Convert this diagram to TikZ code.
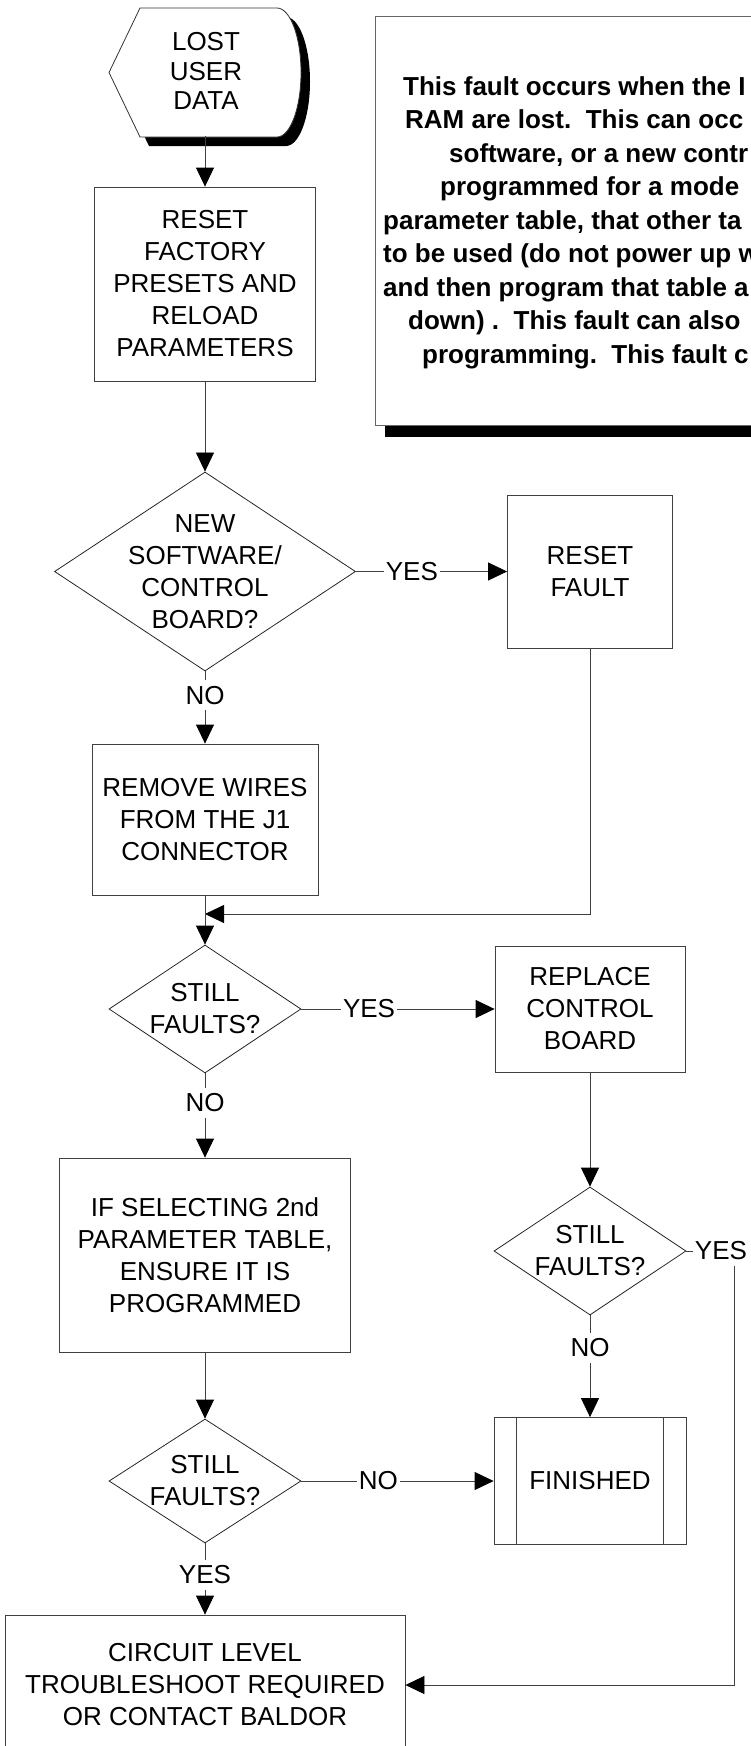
\documentclass[tikz,border=0pt]{standalone}
\usepackage{fontspec}
\setmainfont{Liberation Sans}
\usetikzlibrary{shapes.geometric, arrows.meta, positioning}
\usetikzlibrary{backgrounds}
\newcommand{\flowfont}{\fontsize{26}{32}\selectfont}
\newcommand{\notefont}{\fontsize{26}{33}\selectfont\bfseries}
\tikzset{
	box/.style={draw=black!75, rectangle, line width=0.8pt, align=center, font=\flowfont, inner sep=2pt},
	decision/.style={draw=black!85, diamond, line width=0.8pt, inner sep=0pt},
	txt/.style={align=center, font=\flowfont, inner sep=0pt},
	lbl/.style={fill=white, font=\flowfont, inner xsep=2pt, inner ysep=6pt},
	start/.style={align=center, font=\fontsize{26}{29.5}\selectfont, minimum width=192pt, minimum height=129pt, inner sep=0pt},
	notebox/.style={draw=black!60, fill=white, rectangle, line width=0.8pt, anchor=north west},
	% lines of the note, cut by the right edge
	notetext/.style={font=\notefont, anchor=base west, inner sep=0pt}
}

\begin{document}
\begin{tikzpicture}[x=1pt, y=-1pt]
			\useasboundingbox (0,0) rectangle (750,1746);
			
			\node (data) [start] at (206,71) {LOST\\USER\\DATA};
			\node (rst) [box, minimum width=221pt, minimum height=194pt] at (205,284) {RESET\\FACTORY\\PRESETS AND\\RELOAD\\PARAMETERS};
			
			\node (note) [notebox, minimum width=525pt, minimum height=409pt] at (375,16) {};
			\node (l1) [notetext] at (403,95) {This fault occurs when the I};
			\node (l2) [notetext] at (405,128.5) {RAM are lost.\ \ This can occ};
			\node (l3) [notetext] at (449,162) {software, or a new contr};
			\node (l4) [notetext] at (440,195.5) {programmed for a mode};
			\node (l5) [notetext] at (383,229) {parameter table, that other ta};
			\node (l6) [notetext] at (383,262.5) {to be used (do not power up w};
			\node (l7) [notetext] at (383,296) {and then program that table a};
			\node (l8) [notetext] at (408,329.5) {down) .\ \ This fault can also};
			\node (l9) [notetext] at (422,363) {programming.\ \ This fault c};
			
			\node (q1) [decision, minimum width=301pt, minimum height=199pt] at (205,571.5) {};
			\node (q1t) [txt] at (q1) {NEW\\SOFTWARE/\\CONTROL\\BOARD?};
			\node (fault) [box, minimum width=165pt, minimum height=153pt] at (590,571.5) {RESET\\FAULT};
			\node (remove) [box, minimum width=226pt, minimum height=151pt] at (205,819.5) {REMOVE WIRES\\FROM THE J1\\CONNECTOR};
			\coordinate (join) at (205,914);
			
			\node (q2) [decision, minimum width=192pt, minimum height=128pt] at (205,1009) {};
			\node (q2t) [txt] at (q2) {STILL\\FAULTS?};
			\node (replace) [box, minimum width=190pt, minimum height=126pt] at (590,1009) {REPLACE\\CONTROL\\BOARD};
			\node (ifsel) [box, minimum width=291pt, minimum height=194pt] at (205,1255) {IF SELECTING 2nd\\PARAMETER TABLE,\\ENSURE IT IS\\PROGRAMMED};
			
			\node (q4) [decision, minimum width=192pt, minimum height=128pt] at (590,1251) {};
			\node (q4t) [txt] at (q4) {STILL\\FAULTS?};
			\coordinate (corner) at (734,1251);
			
			\node (q3) [decision, minimum width=192pt, minimum height=124pt] at (205,1481) {};
			\node (q3t) [txt] at (q3) {STILL\\FAULTS?};
			\node (done) [box, minimum width=192pt, minimum height=127pt] at (590,1481) {FINISHED};
			\draw [draw=black!75, line width=0.8pt] ([xshift=23pt]done.north west) -- ([xshift=23pt]done.south west);
			\draw [draw=black!75, line width=0.8pt] ([xshift=-23pt]done.north east) -- ([xshift=-23pt]done.south east);
			
			\node (circuit) [box, minimum width=400pt, minimum height=140pt] at (205,1685) {CIRCUIT LEVEL\\TROUBLESHOOT REQUIRED\\OR CONTACT BALDOR};
			
			% shadows and the start symbol
			\begin{scope}[on background layer]
				\fill [black, shift={(9,9)}] (109,72.5) -- (140,8) -- (277,8) arc[start angle=90, end angle=-90, x radius=24pt, y radius=64.5pt] -- (140,137) -- cycle;
				\filldraw [fill=white, draw=black!80, line width=0.8pt] (109,72.5) -- (140,8) -- (277,8) arc[start angle=90, end angle=-90, x radius=24pt, y radius=64.5pt] -- (140,137) -- cycle;
				\fill [black] ([shift={(10pt,-11pt)}]note.north west) rectangle ([shift={(10pt,-11pt)}]note.south east);
			\end{scope}
			
			\begin{scope}[line width=0.8pt, draw=black!75, -{Triangle[length=19pt, width=18pt, color=black]}]
				\draw (data.south -| rst.north) -- (rst);
				\draw (rst) -- (q1);
				\draw (q1) -- node[lbl, pos=0.37] (y1) {YES} (fault);
				\draw (q1) -- node[lbl, pos=0.33] (n1) {NO} (remove);
				\draw (fault.south) |- (join);
				\draw (remove) -- (q2);
				\draw (q2) -- node[lbl, pos=0.35] (y2) {YES} (replace);
				\draw (q2) -- node[lbl, pos=0.35] (n2) {NO} (ifsel);
				\draw (replace) -- (q4);
				\draw (q4) -- node[lbl, pos=0.32] (n4) {NO} (done);
				\draw (ifsel) -- (q3);
				\draw (q3) -- node[lbl, pos=0.4] (n3) {NO} (done);
				\draw (q3) -- node[lbl, pos=0.44] (y3) {YES} (circuit);
				\draw (q4.east) -- (corner) |- (circuit.east);
			\end{scope}
			\node (y4) [lbl] at (721,1251) {YES};
		\end{tikzpicture}
\end{document}
